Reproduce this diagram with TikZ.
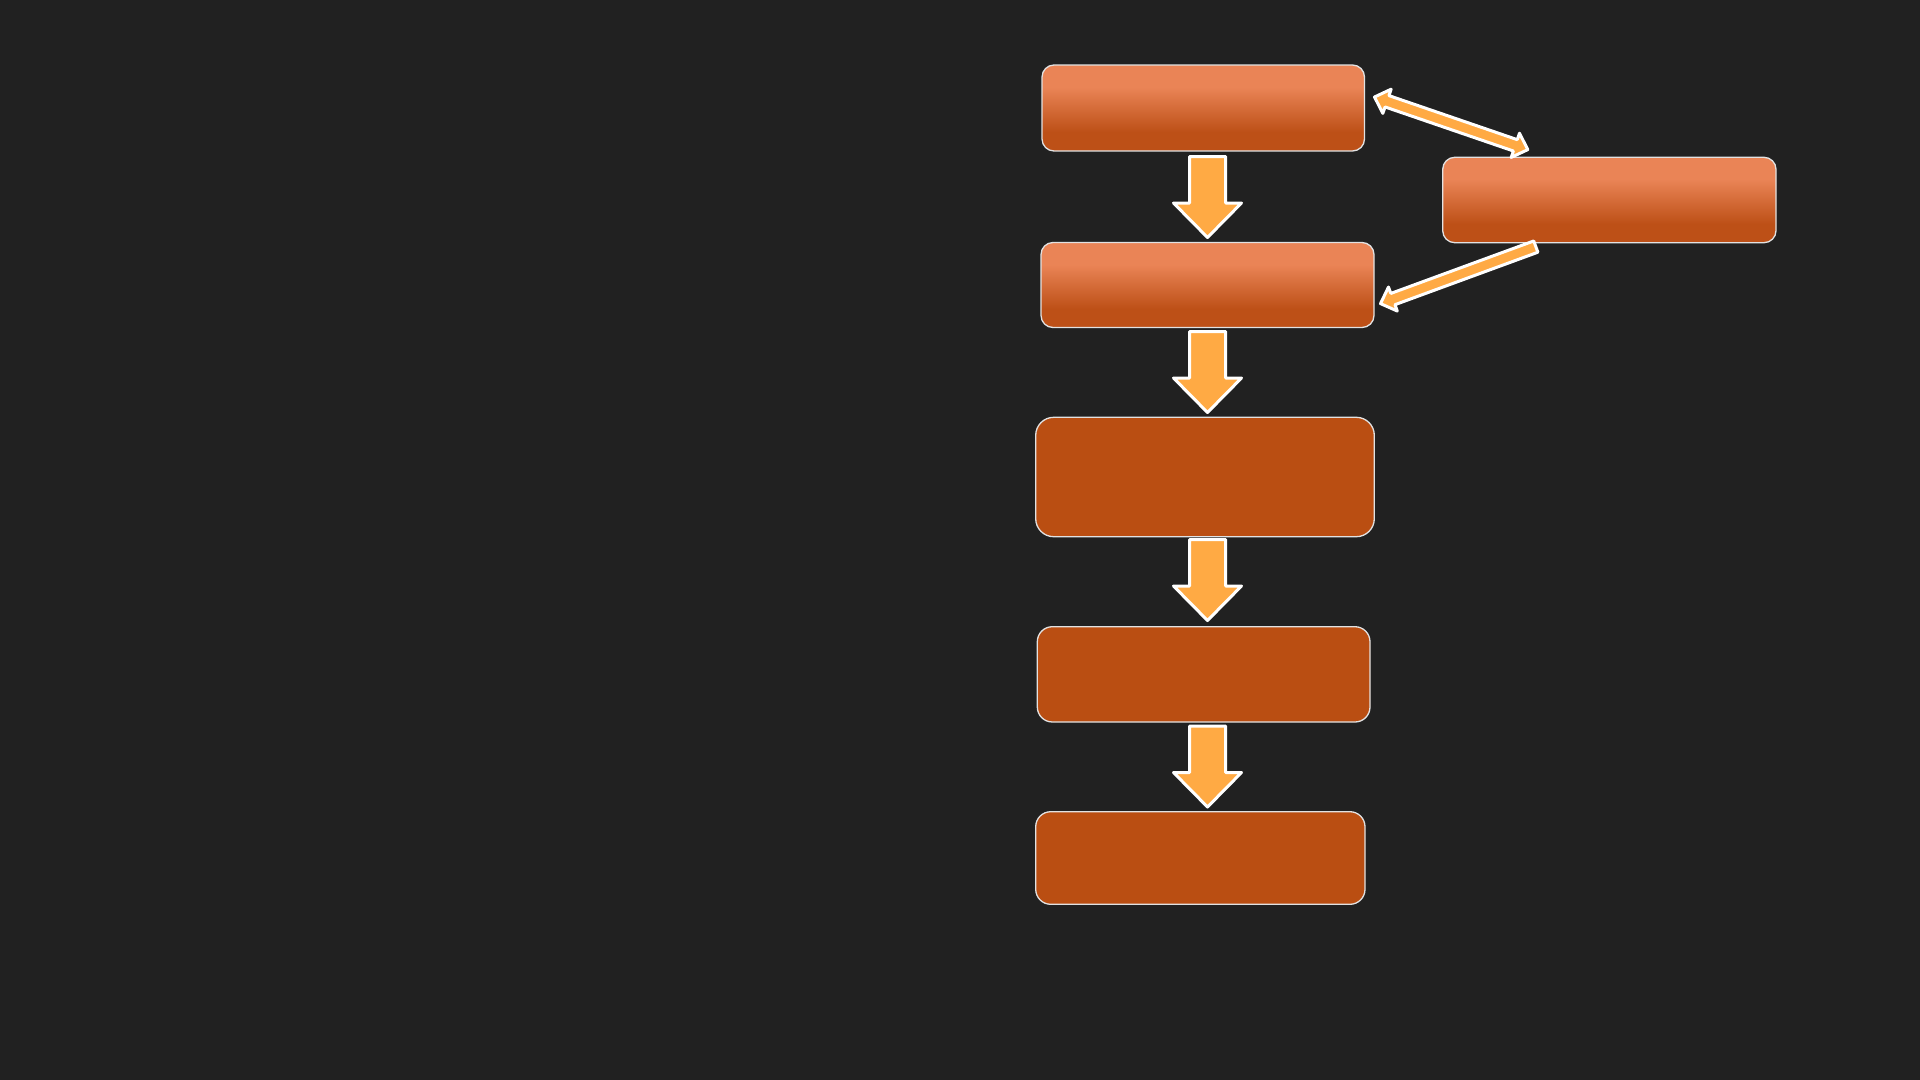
\documentclass[tikz,border=0pt]{standalone}
\usetikzlibrary{calc}
\definecolor{bg}{HTML}{212121}
\definecolor{otop}{HTML}{EA8456}
\definecolor{obot}{HTML}{BD5017}
\definecolor{osolid}{HTML}{BA4E12}
\definecolor{arrfill}{HTML}{FFAA44}
\definecolor{edge}{HTML}{E2E2E2}
\pgfdeclareverticalshading{boxgrad}{100bp}{color(0bp)=(obot); color(36bp)=(obot); color(62bp)=(otop); color(100bp)=(otop)}
\tikzset{
  pbox/.style={draw=edge, line width=0.065cm, inner sep=0pt},
  gradbox/.style={pbox, shading=boxgrad},
  solidbox/.style={pbox, fill=osolid},
  barrow/.style={fill=arrfill, draw=white, line width=0.15cm, line join=round},
}
% vertical block arrow from shaft top #1 to tip #2
\newcommand\blkdownarrow[2]{%
  \draw[barrow] ($(#1)+(-18,0)$) -- ($(#1)+(18,0)$) -- ($(#2)+(18,-34.5)$) -- ($(#2)+(34,-34.5)$) -- (#2)
    -- ($(#2)+(-34,-34.5)$) -- ($(#2)+(-18,-34.5)$) -- cycle;}
% slim single-headed arrow from tail #1 to tip #2
\newcommand\slimarrow[2]{%
  \coordinate (tmpH) at ($(#2)!0.66cm!(#1)$);
  \draw[barrow] ($(#1)!0.3cm!90:(#2)$) -- ($(tmpH)!0.3cm!90:(#2)$) -- ($(tmpH)!0.64cm!90:(#2)$) -- (#2)
    -- ($(tmpH)!0.64cm!-90:(#2)$) -- ($(tmpH)!0.3cm!-90:(#2)$) -- ($(#1)!0.3cm!-90:(#2)$) -- cycle;}
% slim double-headed arrow between tips #1 and #2
\newcommand\slimdarrow[2]{%
  \coordinate (tmpHa) at ($(#1)!0.66cm!(#2)$);
  \coordinate (tmpHb) at ($(#2)!0.66cm!(#1)$);
  \draw[barrow] (#1) -- ($(tmpHa)!0.64cm!90:(#2)$) -- ($(tmpHa)!0.3cm!90:(#2)$) -- ($(tmpHb)!0.3cm!-90:(#1)$)
    -- ($(tmpHb)!0.64cm!-90:(#1)$) -- (#2) -- ($(tmpHb)!0.64cm!90:(#1)$) -- ($(tmpHb)!0.3cm!90:(#1)$)
    -- ($(tmpHa)!0.3cm!-90:(#2)$) -- ($(tmpHa)!0.64cm!-90:(#2)$) -- cycle;}
\begin{document}
\begin{tikzpicture}[x=0.05cm, y=-0.05cm]
  \fill[bg] (0,0) rectangle (1920,1080);
  \useasboundingbox (0,0) rectangle (1920,1080);

  % boxes
  \node[gradbox, rounded corners=0.6cm, minimum width=16.125cm, minimum height=4.3cm] (A) at (1203.25,108) {};
  \node[gradbox, rounded corners=0.6cm, minimum width=16.665cm, minimum height=4.27cm] (R) at (1609.35,200) {};
  \node[gradbox, rounded corners=0.6cm, minimum width=16.65cm, minimum height=4.25cm] (B) at (1207.5,285) {};
  \node[solidbox, rounded corners=0.9cm, minimum width=16.93cm, minimum height=5.97cm] (C) at (1205,477) {};
  \node[solidbox, rounded corners=0.75cm, minimum width=16.635cm, minimum height=4.765cm] (D) at (1203.65,674.35) {};
  \node[solidbox, rounded corners=0.75cm, minimum width=16.465cm, minimum height=4.63cm] (E) at (1200.35,858) {};

  % arrow end points
  \coordinate (a1s) at (1207.5,156.5);  \coordinate (a1e) at (1207.5,237.5);
  \coordinate (a2s) at (1207.5,331.5);  \coordinate (a2e) at (1207.5,412.5);
  \coordinate (a3s) at (1207.5,539.5);  \coordinate (a3e) at (1207.5,620.5);
  \coordinate (a4s) at (1207.5,726);    \coordinate (a4e) at (1207.5,807);
  \coordinate (dAR1) at (1374.5,97);    \coordinate (dAR2) at (1527.8,149.6);
  \coordinate (sRB1) at (1535.8,246.6); \coordinate (sRB2) at (1380.5,303.6);

  \blkdownarrow{a1s}{a1e}
  \blkdownarrow{a2s}{a2e}
  \blkdownarrow{a3s}{a3e}
  \blkdownarrow{a4s}{a4e}
  \slimdarrow{dAR1}{dAR2}
  \slimarrow{sRB1}{sRB2}
\end{tikzpicture}
\end{document}
